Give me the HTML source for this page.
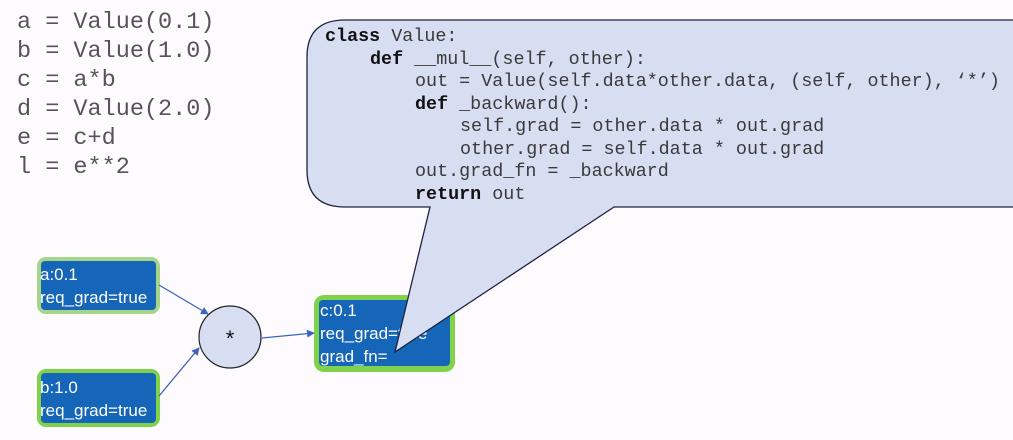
<!DOCTYPE html>
<html><head><meta charset="utf-8"><style>
html,body{margin:0;padding:0;background:#fdfbfd;width:1013px;height:440px;overflow:hidden}
</style></head><body>
<svg width="1013" height="440" xmlns="http://www.w3.org/2000/svg">
<rect width="1013" height="440" fill="#fdfbfd"/>
<g font-family="Liberation Mono, monospace" font-size="23.5" fill="#555">
<text x="17" y="28">a = Value(0.1)</text>
<text x="17" y="57">b = Value(1.0)</text>
<text x="17" y="86">c = a*b</text>
<text x="17" y="115">d = Value(2.0)</text>
<text x="17" y="144">e = c+d</text>
<text x="17" y="173">l = e**2</text>
</g>
<!-- a -->
<rect x="37" y="257" width="123" height="57" rx="9" fill="#a6d58a"/>
<rect x="41" y="261" width="115" height="49" rx="4" fill="#1565b8"/>
<!-- b -->
<rect x="37" y="369" width="123" height="58" rx="9" fill="#80d24a"/>
<rect x="41" y="373" width="115" height="50" rx="4" fill="#1565b8"/>
<!-- c -->
<rect x="314" y="295" width="141" height="77" rx="10" fill="#80d24a"/>
<rect x="319" y="300" width="131" height="66" rx="4" fill="#1565b8"/>
<g font-family="Liberation Sans, sans-serif" font-size="17" fill="#fff">
<text x="40" y="280">a:0.1</text><text x="40" y="303">req_grad=true</text>
<text x="40" y="393">b:1.0</text><text x="40" y="416">req_grad=true</text>
<text x="320" y="316">c:0.1</text><text x="320" y="339">req_grad=true</text><text x="320" y="362">grad_fn=</text>
</g>
<!-- circle -->
<circle cx="230" cy="337" r="31" fill="#d8def2" stroke="#222" stroke-width="1.2"/>
<text x="230" y="346" font-family="Liberation Sans, sans-serif" font-size="22" text-anchor="middle" fill="#111">*</text>
<defs><marker id="ar" markerWidth="8" markerHeight="8" refX="7" refY="4" orient="auto" markerUnits="userSpaceOnUse"><path d="M0,0 L8,4 L0,8 z" fill="#3d64c0"/></marker></defs>
<g stroke="#3d64c0" stroke-width="1.3" fill="none" marker-end="url(#ar)">
<line x1="159" y1="285" x2="208" y2="314"/>
<line x1="159" y1="396" x2="199" y2="348"/>
<line x1="262" y1="338" x2="314" y2="333"/>
</g>
<!-- callout -->
<path d="M345,20 L1020,20 L1020,207 L614,207 L395,352 L430,207 L345,207 Q307,207 307,170 L307,57 Q307,20 345,20 Z" fill="#d8def2" stroke="#1f2240" stroke-width="1.3"/>
<g font-family="Liberation Mono, monospace" font-size="18.4" fill="#3a3a3a">
<text x="325" y="41"><tspan font-weight="bold" fill="#111">class</tspan> Value:</text>
<text x="370" y="64"><tspan font-weight="bold" fill="#111">def</tspan> __mul__(self, other):</text>
<text x="415" y="86">out = Value(self.data*other.data, (self, other), ‘*’)</text>
<text x="415" y="109"><tspan font-weight="bold" fill="#111">def</tspan> _backward():</text>
<text x="460" y="131">self.grad = other.data * out.grad</text>
<text x="460" y="154">other.grad = self.data * out.grad</text>
<text x="415" y="176">out.grad_fn = _backward</text>
<text x="415" y="199"><tspan font-weight="bold" fill="#111">return</tspan> out</text>
</g>
</svg>
</body></html>
